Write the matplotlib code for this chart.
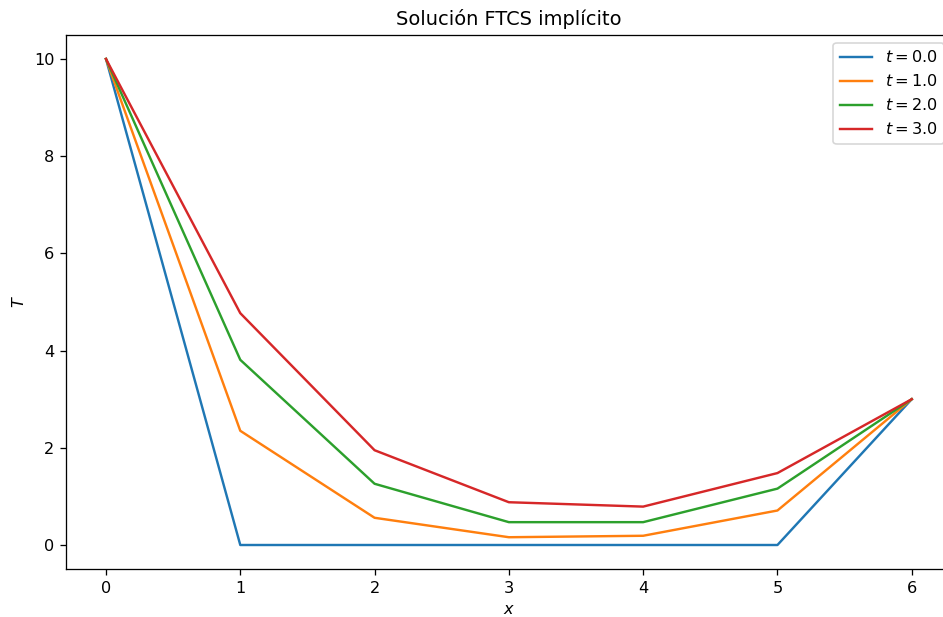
import matplotlib
matplotlib.use('Agg')
import matplotlib.pyplot as plt

x = [0, 1, 2, 3, 4, 5, 6]
tiempos = [0.0, 1.0, 2.0, 3.0]
T_t0 = [10, 0, 0, 0, 0, 0, 3]
T_t1 = [10, 2.35, 0.56, 0.16, 0.19, 0.71, 3]
T_t2 = [10, 3.81, 1.26, 0.47, 0.47, 1.16, 3]
T_t3 = [10, 4.77, 1.95, 0.88, 0.79, 1.48, 3]

# la imagen original estaba guardada a mayor resolución y recortada a la derecha
dpi = 116
fig = plt.figure(figsize=(944 / dpi, 617 / dpi), dpi=dpi)
ax = fig.add_subplot(111)
fig.subplots_adjust(left=0.0696, right=1.0085, top=0.9438, bottom=0.0773)

for t, T in zip(tiempos, [T_t0, T_t1, T_t2, T_t3]):
    ax.plot(x, T, label=r'$t = %.1f$' % t)

ax.set_xlabel('$x$')
ax.set_ylabel('$T$')
ax.set_title('Solución FTCS implícito')
ax.legend(loc='upper right')

fig.savefig('out.png', dpi=dpi)
